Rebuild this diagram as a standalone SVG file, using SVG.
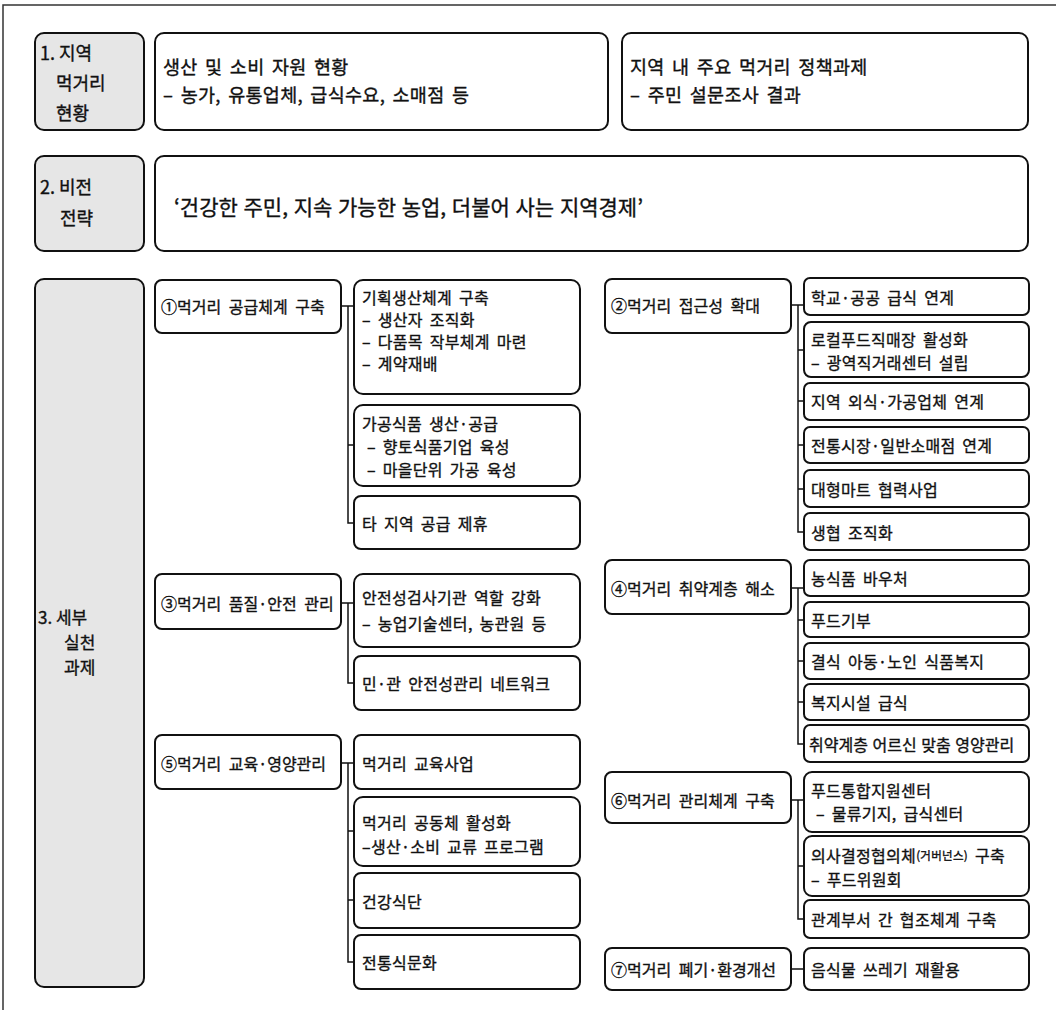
<svg xmlns="http://www.w3.org/2000/svg" width="1056" height="1010" viewBox="0 0 1056 1010">
<style>
.bg{fill:#ffffff}
.frame{fill:none;stroke:#333;stroke-width:1.5}
.box{fill:#ffffff;stroke:#111;stroke-width:2}
.lab{fill:#e6e6e6;stroke:#111;stroke-width:2}
text{font-family:"Noto Sans CJK KR","Noto Sans",sans-serif;fill:#111;stroke:#111;stroke-width:0.35;dominant-baseline:central}
.t1{font-size:18.5px;word-spacing:3px;letter-spacing:0.3px}
.tv{font-size:21px;word-spacing:1px}
.tl{font-size:18px}
.tl3{font-size:17px}
.tm{font-size:16px;word-spacing:4px}
.ts{font-size:16px;word-spacing:3px;letter-spacing:0.3px}
.small{font-size:11.5px}
.conn{fill:none;stroke:#111;stroke-width:1.5}
</style>
<rect class="bg" x="0" y="0" width="1056" height="1010"/>
<path class="frame" d="M3 1010 V5 H1056"/>

<g id="label1"><rect class="lab" x="35" y="33" width="109" height="97" rx="9"/>
<text class="tl" x="40" y="52">1. 지역</text><text class="tl" x="56" y="82">먹거리</text><text class="tl" x="56" y="112">현황</text></g>
<g id="status-resources"><rect class="box" x="155" y="33" width="453" height="97" rx="9"/>
<text class="t1" x="163" y="66">생산 및 소비 자원 현황</text><text class="t1" x="163" y="94">– 농가, 유통업체, 급식수요, 소매점 등</text></g>
<g id="status-policy"><rect class="box" x="622" y="33" width="406" height="97" rx="9"/>
<text class="t1" x="630" y="66">지역 내 주요 먹거리 정책과제</text><text class="t1" x="630" y="94">– 주민 설문조사 결과</text></g>

<g id="label2"><rect class="lab" x="35" y="156" width="109" height="95" rx="9"/>
<text class="tl" x="40" y="186">2. 비전</text><text class="tl" x="60" y="217">전략</text></g>
<g id="vision"><rect class="box" x="155" y="156" width="873" height="95" rx="9"/>
<text class="tv" x="174" y="206">‘건강한 주민, 지속 가능한 농업, 더불어 사는 지역경제’</text></g>

<g id="label3"><rect class="lab" x="35" y="279" width="109" height="708" rx="9"/>
<text class="tl3" x="38" y="616">3. 세부</text><text class="tl3" x="64" y="641">실천</text><text class="tl3" x="64" y="666">과제</text></g>

<g id="task1"><rect class="box" x="155" y="280" width="186" height="53" rx="7"/><text class="tm" x="161" y="306">①먹거리 공급체계 구축</text></g>
<g id="t1a"><rect class="box" x="354" y="280" width="226" height="114" rx="9"/>
<text class="ts" x="362" y="297">기획생산체계 구축</text><text class="ts" x="362" y="319">– 생산자 조직화</text><text class="ts" x="362" y="341">– 다품목 작부체계 마련</text><text class="ts" x="362" y="363">– 계약재배</text></g>
<g id="t1b"><rect class="box" x="354" y="405" width="226" height="81" rx="9"/>
<text class="ts" x="362" y="423">가공식품 생산·공급</text><text class="ts" x="367" y="446">– 향토식품기업 육성</text><text class="ts" x="367" y="469">– 마을단위 가공 육성</text></g>
<g id="t1c"><rect class="box" x="354" y="496" width="226" height="53" rx="7"/><text class="ts" x="362" y="523">타 지역 공급 제휴</text></g>

<g id="task3"><rect class="box" x="155" y="574" width="186" height="55" rx="7"/><text class="tm" x="161" y="603">③먹거리 품질·안전 관리</text></g>
<g id="t3a"><rect class="box" x="354" y="574" width="226" height="73" rx="9"/>
<text class="ts" x="362" y="597">안전성검사기관 역할 강화</text><text class="ts" x="362" y="623">– 농업기술센터, 농관원 등</text></g>
<g id="t3b"><rect class="box" x="354" y="656" width="226" height="54" rx="7"/><text class="ts" x="362" y="683">민·관 안전성관리 네트워크</text></g>

<g id="task5"><rect class="box" x="155" y="735" width="186" height="54" rx="7"/><text class="tm" x="161" y="763">⑤먹거리 교육·영양관리</text></g>
<g id="t5a"><rect class="box" x="354" y="735" width="226" height="54" rx="7"/><text class="ts" x="362" y="763">먹거리 교육사업</text></g>
<g id="t5b"><rect class="box" x="354" y="797" width="226" height="69" rx="9"/>
<text class="ts" x="362" y="822">먹거리 공동체 활성화</text><text class="ts" x="362" y="846">–생산·소비 교류 프로그램</text></g>
<g id="t5c"><rect class="box" x="354" y="873" width="226" height="55" rx="7"/><text class="ts" x="362" y="901">건강식단</text></g>
<g id="t5d"><rect class="box" x="354" y="935" width="226" height="54" rx="7"/><text class="ts" x="362" y="962">전통식문화</text></g>

<g id="task2"><rect class="box" x="605" y="279" width="186" height="54" rx="7"/><text class="tm" x="611" y="305">②먹거리 접근성 확대</text></g>
<g id="t2a"><rect class="box" x="804" y="278" width="225" height="37" rx="6"/><text class="ts" x="811" y="297">학교·공공 급식 연계</text></g>
<g id="t2b"><rect class="box" x="804" y="322" width="225" height="55" rx="7"/>
<text class="ts" x="811" y="339">로컬푸드직매장 활성화</text><text class="ts" x="811" y="362">– 광역직거래센터 설립</text></g>
<g id="t2c"><rect class="box" x="804" y="383" width="225" height="37" rx="6"/><text class="ts" x="811" y="401">지역 외식·가공업체 연계</text></g>
<g id="t2d"><rect class="box" x="804" y="427" width="225" height="36" rx="6"/><text class="ts" x="811" y="445">전통시장·일반소매점 연계</text></g>
<g id="t2e"><rect class="box" x="804" y="470" width="225" height="37" rx="6"/><text class="ts" x="811" y="489">대형마트 협력사업</text></g>
<g id="t2f"><rect class="box" x="804" y="513" width="225" height="37" rx="6"/><text class="ts" x="811" y="532">생협 조직화</text></g>

<g id="task4"><rect class="box" x="605" y="560" width="186" height="54" rx="7"/><text class="tm" x="611" y="588">④먹거리 취약계층 해소</text></g>
<g id="t4a"><rect class="box" x="804" y="560" width="225" height="36" rx="6"/><text class="ts" x="811" y="578">농식품 바우처</text></g>
<g id="t4b"><rect class="box" x="804" y="602" width="225" height="35" rx="6"/><text class="ts" x="811" y="620">푸드기부</text></g>
<g id="t4c"><rect class="box" x="804" y="643" width="225" height="36" rx="6"/><text class="ts" x="811" y="661">결식 아동·노인 식품복지</text></g>
<g id="t4d"><rect class="box" x="804" y="684" width="225" height="36" rx="6"/><text class="ts" x="811" y="702">복지시설 급식</text></g>
<g id="t4e"><rect class="box" x="804" y="725" width="225" height="37" rx="6"/><text class="ts" x="809" y="744" style="word-spacing:1px;letter-spacing:0">취약계층 어르신 맞춤 영양관리</text></g>

<g id="task6"><rect class="box" x="605" y="772" width="186" height="51" rx="7"/><text class="tm" x="611" y="800">⑥먹거리 관리체계 구축</text></g>
<g id="t6a"><rect class="box" x="804" y="772" width="225" height="60" rx="8"/>
<text class="ts" x="811" y="790">푸드통합지원센터</text><text class="ts" x="816" y="813">– 물류기지, 급식센터</text></g>
<g id="t6b"><rect class="box" x="804" y="836" width="225" height="60" rx="8"/>
<text class="ts" x="811" y="855">의사결정협의체<tspan class="small">(거버넌스)</tspan> 구축</text><text class="ts" x="811" y="879">– 푸드위원회</text></g>
<g id="t6c"><rect class="box" x="804" y="900" width="225" height="38" rx="6"/><text class="ts" x="811" y="919">관계부서 간 협조체계 구축</text></g>

<g id="task7"><rect class="box" x="605" y="948" width="186" height="42" rx="7"/><text class="tm" x="611" y="969">⑦먹거리 폐기·환경개선</text></g>
<g id="t7a"><rect class="box" x="804" y="948" width="225" height="42" rx="7"/><text class="ts" x="811" y="969">음식물 쓰레기 재활용</text></g>

<g id="connectors">
<path class="conn" d="M341 306 H354 M348 306 V523 H354 M348 445 H354"/>
<path class="conn" d="M341 603 H354 M348 603 V683 H354"/>
<path class="conn" d="M341 763 H354 M348 763 V962 H354 M348 831 H354 M348 900 H354"/>
<path class="conn" d="M791 305 H804 M798 305 V532 H804 M798 350 H804 M798 401 H804 M798 445 H804 M798 489 H804"/>
<path class="conn" d="M791 588 H804 M798 588 V744 H804 M798 620 H804 M798 661 H804 M798 702 H804"/>
<path class="conn" d="M791 800 H804 M798 800 V919 H804 M798 866 H804"/>
<path class="conn" d="M791 969 H804"/>
</g>
</svg>
